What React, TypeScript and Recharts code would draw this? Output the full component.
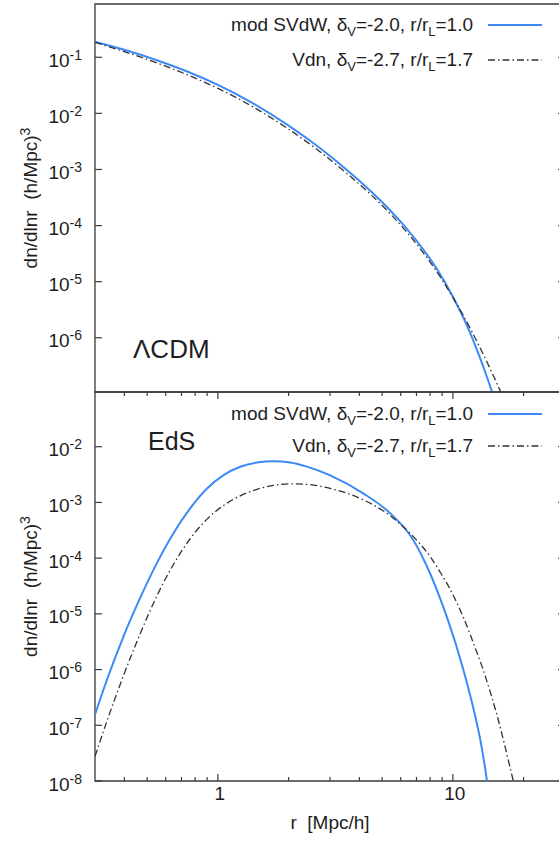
import React from "react";
import { LineChart, Line, XAxis, YAxis, Legend, ReferenceArea } from "recharts";

// ΛCDM panel: void radius [Mpc/h] and dn/dlnr [(h/Mpc)^3]
const rLcdm = [0.3, 0.4, 0.55, 0.75, 1, 1.4, 2, 2.7, 3.5, 4.5, 5.5, 6.5, 7.5, 8.5, 10, 11, 12, 13, 14, 15, 16, 17];
const svdwLcdm = [
  0.19, 0.136, 0.0887, 0.0546, 0.0322, 0.0154, 6.05e-3, 2.46e-3, 1.02e-3, 4.0e-4, 1.73e-4, 7.9e-5, 3.7e-5, 1.75e-5,
  5.4e-6, 2.44e-6, 1.07e-6, 4.56e-7, 1.94e-7, 8.2e-8, 3.5e-8, null,
];
const vdnLcdm = [
  0.184, 0.126, 0.0793, 0.0478, 0.0279, 0.0133, 5.22e-3, 2.12e-3, 8.83e-4, 3.49e-4, 1.51e-4, 6.9e-5, 3.23e-5, 1.55e-5,
  5.25e-6, 2.63e-6, 1.33e-6, 6.85e-7, 3.63e-7, 1.95e-7, 1.07e-7, 6.0e-8,
];

// EdS panel
const rEds = [
  0.3, 0.337, 0.396, 0.467, 0.55, 0.647, 0.762, 0.897, 1.057, 1.245, 1.466, 1.726, 2.032, 2.393, 3.006, 4.169, 5.408,
  6.792, 8.0, 8.831, 9.42, 11.09, 12.65, 13.06, 13.95, 15.38, 17.82, 19.5,
];
const svdwEds = [
  1.55e-7, 6.5e-7, 3.88e-6, 1.93e-5, 8.13e-5, 2.8e-4, 7.83e-4, 1.76e-3, 3.09e-3, 4.36e-3, 5.21e-3, 5.5e-3, 5.21e-3,
  4.39e-3, 3.05e-3, 1.44e-3, 6.4e-4, 2.1e-4, 5.3e-5, 1.88e-5, 8.9e-6, 9.8e-7, 1.08e-7, 5.7e-8, 1.04e-8, 3e-10, null, null,
];
const vdnEds = [
  2.75e-8, 1.18e-7, 7.66e-7, 4.4e-6, 2.1e-5, 7.7e-5, 2.23e-4, 4.97e-4, 8.81e-4, 1.315e-3, 1.72e-3, 2.03e-3, 2.16e-3,
  2.11e-3, 1.78e-3, 1.107e-3, 5.78e-4, 2.43e-4, 1.07e-4, 5.6e-5, 3.56e-5, 8.6e-6, 2.04e-6, 1.43e-6, 6.2e-7, 1.57e-7,
  1.29e-8, 2.6e-9,
];

const xTicks = [0.4, 0.5, 0.6, 0.7, 0.8, 0.9, 1, 2, 3, 4, 5, 6, 7, 8, 9, 10, 20];
const xLabels = [1, 10];
const yTicksLcdm = [1e-1, 1e-2, 1e-3, 1e-4, 1e-5, 1e-6];
const yTicksEds = [1e-2, 1e-3, 1e-4, 1e-5, 1e-6, 1e-7, 1e-8];

type Part = { t: string; sub?: boolean };
const legendOrder = ["svdw", "vdn"];
const legendParts: Record<string, Part[]> = {
  svdw: [{ t: "mod SVdW, δ" }, { t: "V", sub: true }, { t: "=-2.0, r/r" }, { t: "L", sub: true }, { t: "=1.0" }],
  vdn: [{ t: "Vdn, δ" }, { t: "V", sub: true }, { t: "=-2.7, r/r" }, { t: "L", sub: true }, { t: "=1.7" }],
};

const FONT = "'Liberation Sans', Arial, Helvetica, sans-serif";
const INK = "#1e1e1e";
const AXIS = "#3a3a3a";
const BLUE = "#3d8af7";
const DASH = "#333333";
const DASH_PATTERN = "7 3 1.5 3";

const CHART_W = 600;
const LEFT = 95;
const RIGHT = 565;

const rows = (r: number[], a: (number | null)[], b: (number | null)[]) =>
  r.map((v, i) => ({ r: v, svdw: a[i], vdn: b[i] }));

const lcdmData = rows(rLcdm, svdwLcdm, vdnLcdm);
const edsData = rows(rEds, svdwEds, vdnEds);

const isMajor = (v: number) => v === 1 || v === 10;

function makeXTick(top: number, bottom: number, withLabels: boolean) {
  return (props: any) => {
    const { x, payload } = props;
    const v = payload.value as number;
    const len = isMajor(v) ? 7 : 4;
    return (
      <g>
        <line x1={x} x2={x} y1={top} y2={top + len} stroke={AXIS} strokeWidth={1.2} />
        <line x1={x} x2={x} y1={bottom} y2={bottom - len} stroke={AXIS} strokeWidth={1.2} />
        {withLabels && xLabels.includes(v) ? (
          <text x={x + 2} y={bottom + 19} textAnchor="middle" fontSize={19} fontFamily={FONT} fill={INK}>
            {v}
          </text>
        ) : null}
      </g>
    );
  };
}

function YTick(props: any) {
  const { y, payload } = props;
  const exp = Math.round(Math.log10(payload.value));
  return (
    <g>
      <line x1={LEFT} x2={LEFT + 7} y1={y} y2={y} stroke={AXIS} strokeWidth={1.2} />
      <line x1={RIGHT} x2={RIGHT - 7} y1={y} y2={y} stroke={AXIS} strokeWidth={1.2} />
      <text x={LEFT - 13} y={y + 9.5} textAnchor="end" fontSize={19} fontFamily={FONT} fill={INK}>
        10
        <tspan dy={-7} fontSize={14}>
          {String(exp)}
        </tspan>
      </text>
    </g>
  );
}

function YTitle(props: any) {
  const vb = props.viewBox || {};
  const cy = vb.y + vb.height / 2;
  return (
    <text
      x={37}
      y={cy}
      transform={`rotate(-90, 37, ${cy})`}
      textAnchor="middle"
      fontSize={19}
      fontFamily={FONT}
      fill={INK}
      style={{ whiteSpace: "pre" }}
    >
      {"dn/dlnr  (h/Mpc)"}
      <tspan dy={-7} fontSize={14}>
        3
      </tspan>
    </text>
  );
}

function XTitle(props: any) {
  const vb = props.viewBox || {};
  return (
    <text
      x={vb.x + vb.width / 2}
      y={vb.y + 48}
      textAnchor="middle"
      fontSize={19}
      fontFamily={FONT}
      fill={INK}
      style={{ whiteSpace: "pre" }}
    >
      {"r  [Mpc/h]"}
    </text>
  );
}

function makeLegend(textY: number[], lineY: number[]) {
  return (props: any) => {
    const items = [...(props.payload || [])].sort(
      (a: any, b: any) => legendOrder.indexOf(a.dataKey) - legendOrder.indexOf(b.dataKey)
    );
    return (
      <svg width={CHART_W} height={90} style={{ display: "block" }}>
        {items.map((it: any, i: number) => {
          const parts = legendParts[it.dataKey] || [{ t: String(it.value) }];
          const dash = it.payload?.strokeDasharray;
          const width = it.payload?.strokeWidth ?? 1.5;
          return (
            <g key={it.dataKey}>
              <text x={473} y={textY[i]} textAnchor="end" fontSize={19} fontFamily={FONT} fill={INK}>
                {parts.map((p, j) => {
                  const prevSub = j > 0 && parts[j - 1].sub;
                  const dy = p.sub ? 5 : prevSub ? -5 : 0;
                  return (
                    <tspan key={j} dy={dy} fontSize={p.sub ? 13 : 19}>
                      {p.t}
                    </tspan>
                  );
                })}
              </text>
              <line x1={488} x2={542} y1={lineY[i]} y2={lineY[i]} stroke={it.color} strokeWidth={width} strokeDasharray={dash} />
            </g>
          );
        })}
      </svg>
    );
  };
}

function Panel(props: {
  data: any[];
  height: number;
  margin: { top: number; right: number; bottom: number; left: number };
  yDomain: [number, number];
  yTicks: number[];
  xHeight: number;
  withXLabels: boolean;
  legendText: number[];
  legendLine: number[];
}) {
  const { data, height, margin, yDomain, yTicks, xHeight, withXLabels } = props;
  const plotTop = margin.top;
  const plotBottom = height - margin.bottom - xHeight;
  return (
    <LineChart width={CHART_W} height={height} data={data} margin={margin}>
      <XAxis
        dataKey="r"
        type="number"
        scale="log"
        domain={[0.3, 30]}
        allowDataOverflow
        ticks={xTicks}
        interval={0}
        height={xHeight}
        axisLine={false}
        tickLine={false}
        tick={makeXTick(plotTop, plotBottom, withXLabels)}
        label={withXLabels ? <XTitle /> : undefined}
      />
      <YAxis
        type="number"
        scale="log"
        domain={yDomain}
        allowDataOverflow
        ticks={yTicks}
        interval={0}
        width={LEFT}
        axisLine={false}
        tickLine={false}
        tick={<YTick />}
        label={<YTitle />}
      />
      <ReferenceArea x1={0.3} x2={30} y1={yDomain[0]} y2={yDomain[1]} fill="none" stroke={AXIS} strokeWidth={1.3} />
      <Line
        dataKey="svdw"
        name="mod SVdW"
        type="monotone"
        stroke={BLUE}
        strokeWidth={2}
        dot={false}
        activeDot={false}
        connectNulls
        isAnimationActive={false}
      />
      <Line
        dataKey="vdn"
        name="Vdn"
        type="monotone"
        stroke={DASH}
        strokeWidth={1.3}
        strokeDasharray={DASH_PATTERN}
        dot={false}
        activeDot={false}
        connectNulls
        isAnimationActive={false}
      />
      <Legend
        layout="vertical"
        align="center"
        verticalAlign="middle"
        wrapperStyle={{ top: 0, left: 0, width: CHART_W, height: 90 }}
        content={makeLegend(props.legendText, props.legendLine)}
      />
    </LineChart>
  );
}

export default function App() {
  return (
    <div
      style={{
        position: "fixed",
        left: 0,
        top: 0,
        width: 559,
        height: 850,
        overflow: "hidden",
        background: "#fff",
        fontFamily: FONT,
      }}
    >
      <div style={{ position: "absolute", left: 0, top: 0 }}>
        <Panel
          data={lcdmData}
          height={400}
          margin={{ top: 4, right: CHART_W - RIGHT, bottom: 8, left: 0 }}
          yDomain={[1.08e-7, 0.89]}
          yTicks={yTicksLcdm}
          xHeight={0}
          withXLabels={false}
          legendText={[31, 66]}
          legendLine={[25, 60]}
        />
      </div>
      <div style={{ position: "absolute", left: 0, top: 382 }}>
        <Panel
          data={edsData}
          height={468}
          margin={{ top: 10, right: CHART_W - RIGHT, bottom: 0, left: 0 }}
          yDomain={[1e-8, 0.096]}
          yTicks={yTicksEds}
          xHeight={69}
          withXLabels={true}
          legendText={[38, 70]}
          legendLine={[32, 64]}
        />
      </div>
      <svg width={559} height={850} style={{ position: "absolute", left: 0, top: 0, pointerEvents: "none" }}>
        <text x={133} y={358} fontSize={26} fontFamily={FONT} fill={INK}>
          ΛCDM
        </text>
        <text x={148} y={450} fontSize={25} fontFamily={FONT} fill={INK}>
          EdS
        </text>
      </svg>
    </div>
  );
}
